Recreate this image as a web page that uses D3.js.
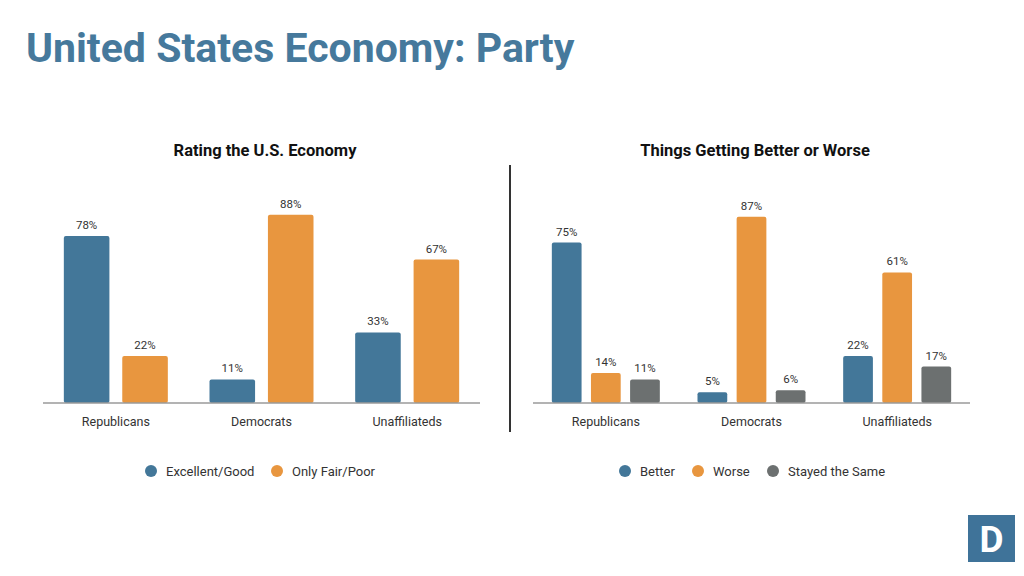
<!DOCTYPE html>
<html lang="en">
<head>
<meta charset="utf-8">
<title>United States Economy: Party</title>
<script src="https://cdn.jsdelivr.net/npm/d3@7/dist/d3.min.js"></script>
<style>
  body { margin: 0; background: #fff; }
  svg text { font-family: Roboto, "Noto Sans", sans-serif; }
  .axis path, .axis line { stroke: #9a9a9a; stroke-width: 1.5; }
  .axis text { font-size: 12.5px; fill: #333; }
</style>
</head>
<body>
<script>
var w = 1024, h = 576;

// data
var parties = ["Republicans", "Democrats", "Unaffiliateds"];

var ratingSeries = ["Excellent/Good", "Only Fair/Poor"];
var ratingExcellent = [78, 11, 33];
var ratingFair = [22, 88, 67];

var trendSeries = ["Better", "Worse", "Stayed the Same"];
var trendBetter = [75, 5, 22];
var trendWorse = [14, 87, 61];
var trendSame = [11, 6, 17];

var colors = ["#437799", "#e8963f", "#6c7070"];

var svg = d3.select("body").append("svg")
  .attr("width", w)
  .attr("height", h);

// main title
svg.append("text")
  .attr("x", 26)
  .attr("y", 62)
  .attr("font-size", "41px")
  .attr("font-weight", "bold")
  .attr("fill", "#46799c")
  .text("United States Economy: Party");

// divider
svg.append("line")
  .attr("x1", 510).attr("x2", 510)
  .attr("y1", 165).attr("y2", 432)
  .attr("stroke", "#333")
  .attr("stroke-width", 2);

function drawChart(opts) {
  var g = svg.append("g");
  var x0 = d3.scaleBand()
    .domain(parties)
    .range([opts.left, opts.right]);

  var x1 = d3.scaleBand()
    .domain(opts.series)
    .range([0, opts.groupWidth])
    .paddingInner(opts.innerPad);

  var y = d3.scaleLinear()
    .domain([0, 100])
    .range([403, 189]);

  var groups = g.selectAll(".grp")
    .data(parties)
    .enter()
    .append("g")
    .attr("transform", function(d) {
      return "translate(" + (x0(d) + (x0.bandwidth() - opts.groupWidth) / 2) + ",0)";
    });

  groups.selectAll("rect")
    .data(function(d, i) {
      return opts.series.map(function(s, j) {
        return { key: s, value: opts.values[j][i], idx: j };
      });
    })
    .enter()
    .append("rect")
    .attr("x", function(d) { return x1(d.key); })
    .attr("y", function(d) { return y(d.value); })
    .attr("width", x1.bandwidth())
    .attr("height", function(d) { return y(0) - y(d.value); })
    .attr("rx", 2)
    .attr("fill", function(d) { return colors[d.idx]; });

  groups.selectAll("text.val")
    .data(function(d, i) {
      return opts.series.map(function(s, j) {
        return { key: s, value: opts.values[j][i] };
      });
    })
    .enter()
    .append("text")
    .attr("class", "val")
    .attr("x", function(d) { return x1(d.key) + x1.bandwidth() / 2; })
    .attr("y", function(d) { return y(d.value) - 7; })
    .attr("text-anchor", "middle")
    .attr("font-size", "11.5px")
    .attr("fill", "#333")
    .text(function(d) { return d.value + "%"; });

  var xAxis = d3.axisBottom(x0).tickSize(0).tickPadding(14);
  g.append("g")
    .attr("class", "axis")
    .attr("transform", "translate(0,403)")
    .call(xAxis)
    .call(function(a) { a.select(".domain").attr("d", "M" + opts.left + ",0H" + opts.right); });

  // chart title
  g.append("text")
    .attr("x", (opts.left + opts.right) / 2 + 3.5)
    .attr("y", 156)
    .attr("text-anchor", "middle")
    .attr("font-size", "16.5px")
    .attr("font-weight", "bold")
    .attr("fill", "#111")
    .text(opts.title);

  // legend
  var leg = g.selectAll(".leg")
    .data(opts.series)
    .enter()
    .append("g")
    .attr("transform", function(d, i) { return "translate(" + opts.legendX[i] + ",471)"; });
  leg.append("circle")
    .attr("r", 6)
    .attr("fill", function(d, i) { return colors[i]; });
  leg.append("text")
    .attr("x", 15)
    .attr("y", 4.5)
    .attr("font-size", "13px")
    .attr("fill", "#333")
    .text(function(d) { return d; });
}

drawChart({
  left: 43, right: 480,
  groupWidth: 104, innerPad: 0.22,
  series: ratingSeries,
  values: [ratingExcellent, ratingFair],
  title: "Rating the U.S. Economy",
  legendX: [151, 277]
});

drawChart({
  left: 533, right: 970,
  groupWidth: 108, innerPad: 0.24,
  series: trendSeries,
  values: [trendBetter, trendWorse, trendSame],
  title: "Things Getting Better or Worse",
  legendX: [625, 698, 773]
});

// logo
var logo = svg.append("g").attr("transform", "translate(968,515)");
logo.append("rect")
  .attr("width", 47).attr("height", 47)
  .attr("fill", "#3f7399");
logo.append("text")
  .attr("x", 23.5).attr("y", 37)
  .attr("text-anchor", "middle")
  .attr("font-size", "37px")
  .attr("font-weight", "bold")
  .attr("fill", "#fff")
  .text("D");
</script>
</body>
</html>
